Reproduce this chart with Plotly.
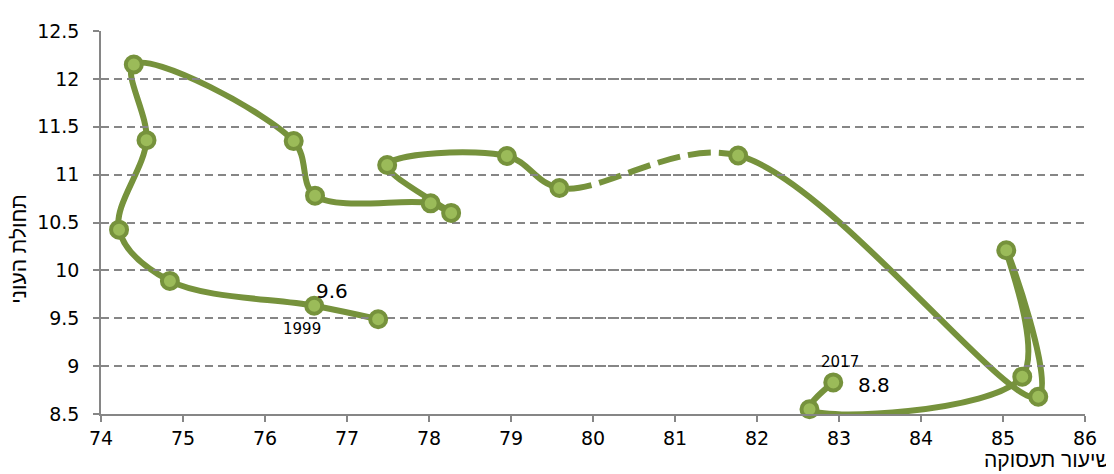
import plotly.graph_objects as go

# employment rate (x) and poverty incidence (y), in chronological order
employment = [77.38, 76.60, 74.84, 74.22, 74.555, 74.40, 76.35, 76.61, 78.02, 78.27,
              77.49, 78.95, 79.59, 81.77, 85.43, 85.04, 85.235, 82.64, 82.93]
poverty = [9.49, 9.63, 9.89, 10.425, 11.36, 12.15, 11.35, 10.78, 10.70, 10.60,
           11.10, 11.195, 10.86, 11.20, 8.68, 10.21, 8.89, 8.55, 8.83]

# the segment between these two points is drawn dashed
gap_start = 12
gap_end = 13

x_min, x_max = 74, 86
y_min, y_max = 8.5, 12.5
x_ticks = list(range(x_min, x_max + 1))
y_ticks = [8.5, 9, 9.5, 10, 10.5, 11, 11.5, 12, 12.5]

labels = ["9.6", "1999", "2017", "8.8"]
label_x = [76.82, 76.45, 83.01, 83.43]
label_y = [9.78, 9.39, 9.04, 8.805]
label_size = [20, 15, 15, 20]

line_color = "#76923C"
fill_color = "#9BBB59"
grid_color = "#868686"
font = "DejaVu Sans"
title_font = "Liberation Sans"

fig = go.Figure()

# same full curve on three x-axes whose domains split the plot area,
# so the smoothing is identical and only the middle part is dashed
x_gap0 = employment[gap_start]
x_gap1 = employment[gap_end]
f0 = (x_gap0 - x_min) / (x_max - x_min)
f1 = (x_gap1 - x_min) / (x_max - x_min)

parts = [
    ("x", "solid"),
    ("x2", "23px,8px"),
    ("x3", "solid"),
]
for xa, dash in parts:
    fig.add_trace(go.Scatter(
        x=employment, y=poverty,
        mode="lines",
        line=dict(color=line_color, width=6, shape="spline", dash=dash, simplify=False),
        xaxis=xa, yaxis="y",
        hoverinfo="skip",
        showlegend=False
    ))

# markers on the full-width visible axis, drawn last so they sit on top
fig.add_trace(go.Scatter(
    x=employment, y=poverty,
    mode="markers",
    marker=dict(size=16, color=fill_color, line=dict(color=line_color, width=4)),
    xaxis="x4", yaxis="y",
    cliponaxis=False,
    showlegend=False
))

for txt, lx, ly, sz in zip(labels, label_x, label_y, label_size):
    fig.add_annotation(
        x=lx, y=ly, xref="x4", yref="y", text=txt, showarrow=False,
        font=dict(family=font, size=sz, color="black")
    )

fig.add_annotation(
    xref="paper", yref="paper", x=1.028, y=-0.118,
    xanchor="right", yanchor="middle",
    text="שיעור תעסוקה", showarrow=False,
    font=dict(family=title_font, size=21, color="black")
)
fig.add_annotation(
    xref="paper", yref="paper", x=-0.084, y=0.43,
    xanchor="center", yanchor="middle", textangle=-90,
    text="תחולת העוני", showarrow=False,
    font=dict(family=title_font, size=21, color="black")
)

hidden = dict(visible=False, showgrid=False, zeroline=False, fixedrange=True)

# the page body adds an 8px offset, so the figure is 8px smaller than the window
fig.update_layout(
    width=1106,
    height=466,
    margin=dict(l=93, r=29, t=12, b=60),
    paper_bgcolor="white",
    plot_bgcolor="rgba(0,0,0,0)",
    font=dict(family=font, size=19, color="black"),
    xaxis=dict(domain=[0, f0], range=[x_min, x_gap0], anchor="y", **hidden),
    xaxis2=dict(domain=[f0, f1], range=[x_gap0, x_gap1], anchor="y", **hidden),
    xaxis3=dict(domain=[f1, 1], range=[x_gap1, x_max], anchor="y", **hidden),
    xaxis4=dict(
        domain=[0, 1], anchor="y",
        range=[x_min, x_max], tickvals=x_ticks,
        showgrid=False, zeroline=False,
        showline=True, linecolor=grid_color, linewidth=1.5,
        ticks="outside", ticklen=6, tickcolor=grid_color, tickwidth=1.5,
        ticklabelstandoff=0
    ),
    yaxis=dict(
        anchor="x4",
        range=[y_min, y_max], tickvals=y_ticks,
        showgrid=True, gridcolor=grid_color, gridwidth=1.5, griddash="8px,5px",
        zeroline=False,
        showline=True, linecolor=grid_color, linewidth=1.5,
        ticks="outside", ticklen=6, tickcolor=grid_color, tickwidth=1.5,
        ticklabelstandoff=10
    ),
)

fig.write_html("out.html")
